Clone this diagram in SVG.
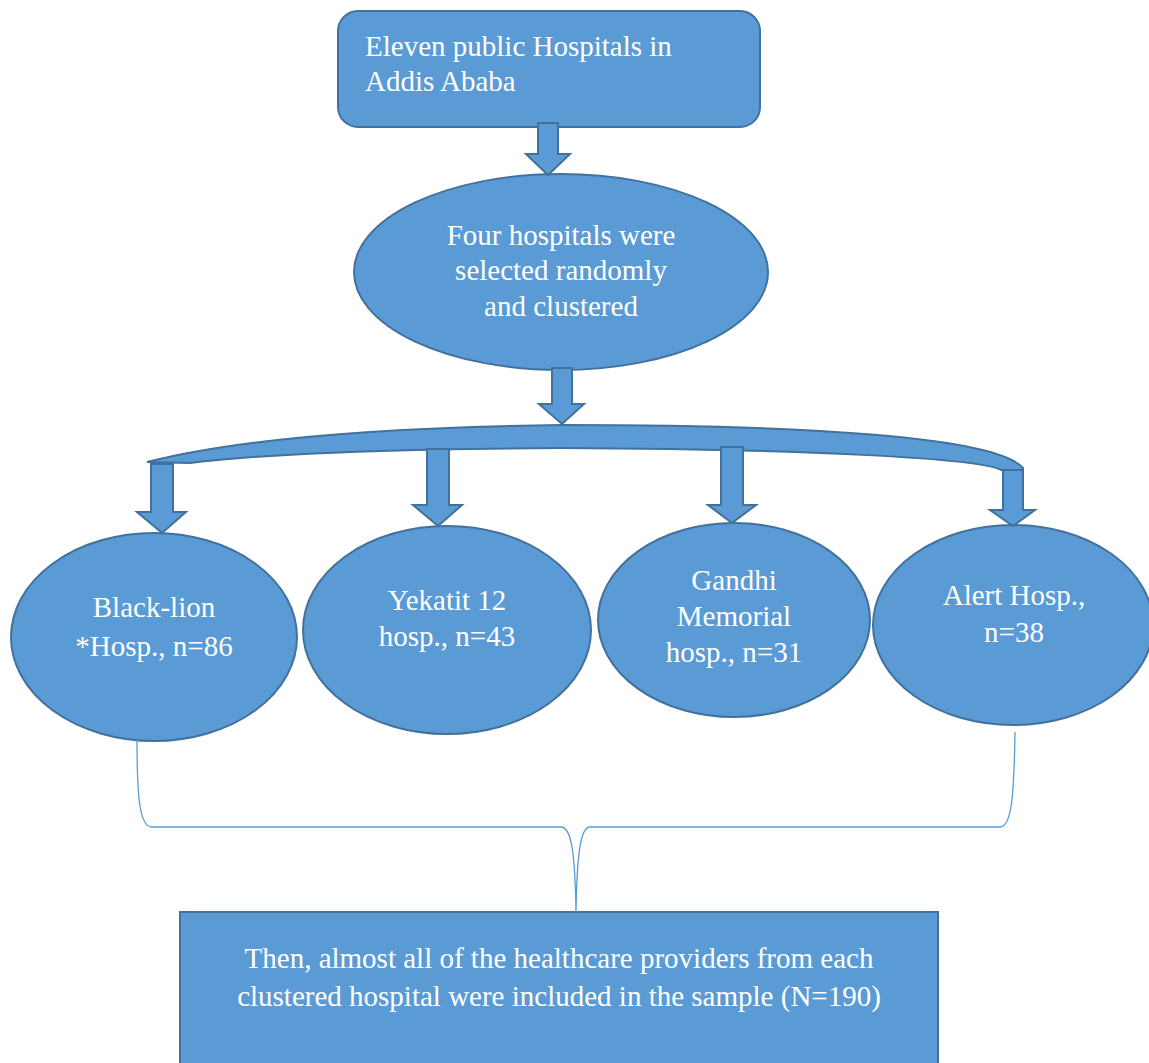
<svg xmlns="http://www.w3.org/2000/svg" width="1149" height="1063" viewBox="0 0 1149 1063">
<style>
.shape{fill:#5b9bd5;stroke:#41719c;stroke-width:2}
.arrow{fill:#5b9bd5;stroke:#41719c;stroke-width:2;stroke-linejoin:miter}
.lbl{font-family:'Liberation Serif','Tinos','DejaVu Serif',serif;font-size:29px;fill:#ffffff}
.mid{text-anchor:middle}
.brace{fill:none;stroke:#5b9bd5;stroke-width:1.3}
</style>
<rect width="1149" height="1063" fill="#ffffff"/>
<g id="node-eleven">
<rect class="shape" x="338" y="11" width="422" height="116" rx="20" ry="20"/>
<text class="lbl" x="365" y="56">Eleven public Hospitals in</text>
<text class="lbl" x="365" y="91">Addis Ababa</text>
</g>
<g id="node-four">
<ellipse class="shape" cx="561" cy="272" rx="207" ry="98"/>
<text class="lbl mid" x="561" y="245">Four hospitals were</text>
<text class="lbl mid" x="561" y="280">selected randomly</text>
<text class="lbl mid" x="561" y="316">and clustered</text>
</g>
<g id="node-blacklion">
<ellipse class="shape" cx="154" cy="637" rx="143" ry="104"/>
<text class="lbl mid" x="154" y="617">Black-lion</text>
<text class="lbl mid" x="154" y="656">*Hosp., n=86</text>
</g>
<g id="node-yekatit">
<ellipse class="shape" cx="447" cy="630" rx="144" ry="104"/>
<text class="lbl mid" x="447" y="610">Yekatit 12</text>
<text class="lbl mid" x="447" y="646">hosp., n=43</text>
</g>
<g id="node-gandhi">
<ellipse class="shape" cx="734" cy="620" rx="136" ry="97"/>
<text class="lbl mid" x="734" y="590">Gandhi</text>
<text class="lbl mid" x="734" y="626">Memorial</text>
<text class="lbl mid" x="734" y="662">hosp., n=31</text>
</g>
<g id="node-alert">
<ellipse class="shape" cx="1013" cy="625" rx="140" ry="100"/>
<text class="lbl mid" x="1014" y="605">Alert Hosp.,</text>
<text class="lbl mid" x="1014" y="642">n=38</text>
</g>
<g id="node-sample">
<rect class="shape" x="180" y="912" width="758" height="160"/>
<text class="lbl mid" x="559" y="968">Then, almost all of the healthcare providers from each</text>
<text class="lbl mid" x="559" y="1006">clustered hospital were included in the sample (N=190)</text>
</g>
<g id="connectors">
<polygon class="arrow" points="538,123 558,123 558,154 570,154 548,175 526,154 538,154"/>
<polygon class="arrow" points="552,368 572,368 572,404 584,404 562,424 539,404 552,404"/>
<path class="arrow" d="M147,462 C250,436 400,427 562,425 C800,425 995,436 1023,468 L1023,470 L1001,470 C980,458 800,449 562,448 C400,449 260,454 190,463 Z"/>
<polygon class="arrow" points="151,464 173,464 173,512 186,512 162,533 137,512 151,512"/>
<polygon class="arrow" points="427,449 449,449 449,505 462,505 438,526 413,505 427,505"/>
<polygon class="arrow" points="721,447 743,447 743,505 756,505 732,523 708,505 721,505"/>
<polygon class="arrow" points="1003,470 1023,470 1023,510 1035,510 1013,526 990,510 1003,510"/>
<path class="brace" d="M137,740 C137,800 140,827 152,827 L561,827 C571,827 575,850 576,912 C577,850 581,827 590,827 L1000,827 C1011,827 1014,800 1015,732"/>
</g>
</svg>
